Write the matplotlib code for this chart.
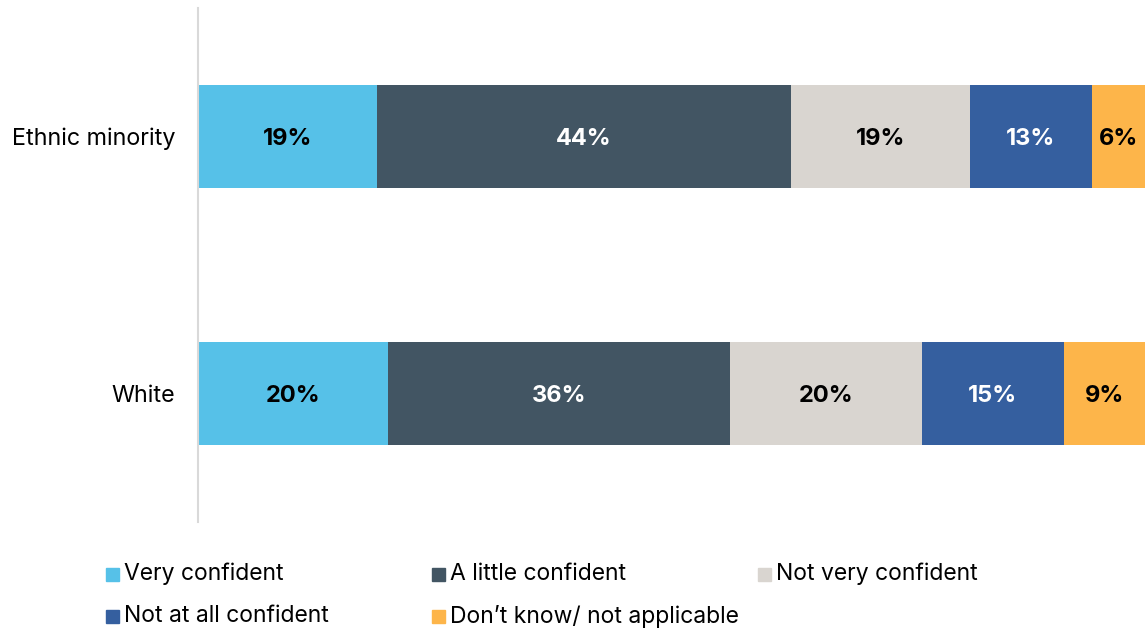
import matplotlib.pyplot as plt
from matplotlib.patches import Rectangle

plt.rcParams['font.family'] = ['Inter', 'DejaVu Sans']

groups = ["Ethnic minority", "White"]
answers = ["Very confident", "A little confident", "Not very confident",
           "Not at all confident", "Don\u2019t know/ not applicable"]
minority = [18.9, 43.7, 18.9, 12.9, 5.6]
white = [20.1, 36.1, 20.2, 15.0, 8.7]
minority_labels = ["19%", "44%", "19%", "13%", "6%"]
white_labels = ["20%", "36%", "20%", "15%", "9%"]

colors = ["#56C1E8", "#425563", "#D9D5D0", "#355F9F", "#FDB54A"]
text_colors = ["black", "white", "black", "white", "black"]

fig = plt.figure(figsize=(11.45, 6.3), dpi=100)
ax = fig.add_axes([198/1145, 1 - 522/630, 1 - 198/1145, (522 - 8)/630])

values = [minority, white]
labels = [minority_labels, white_labels]
for gi in range(len(groups)):
	left = 0
	for i in range(len(answers)):
		v = values[gi][i]
		ax.barh(gi, v, left=left, height=0.4, color=colors[i], edgecolor='none')
		ax.text(left + v/2, gi, labels[gi][i], ha='center', va='center_baseline',
				fontsize=17, fontweight='bold', color=text_colors[i])
		left += v

ax.set_xlim(0, 100)
ax.set_ylim(1.5, -0.5)
ax.set_yticks(range(len(groups)))
ax.set_yticklabels(groups, fontsize=16.8)
ax.tick_params(axis='y', length=0, pad=16.5)
ax.set_xticks([])
for s in ['top', 'right', 'bottom']:
	ax.spines[s].set_visible(False)
ax.spines['left'].set_color('#D9D9D9')
ax.spines['left'].set_linewidth(1.5)

# legend: fixed-width columns, 3 per row
for i in range(len(answers)):
	col = i % 3
	row = i // 3
	x0 = (106 + col*326) / 1145
	y0 = 1 - (574 + row*42) / 630
	fig.patches.append(Rectangle((x0, y0 - 7/630), 13/1145, 13/630,
								 transform=fig.transFigure, color=colors[i]))
	fig.text(x0 + 18/1145, y0, answers[i], fontsize=16.5, va='center', ha='left')

fig.savefig("out.png", dpi=100)
